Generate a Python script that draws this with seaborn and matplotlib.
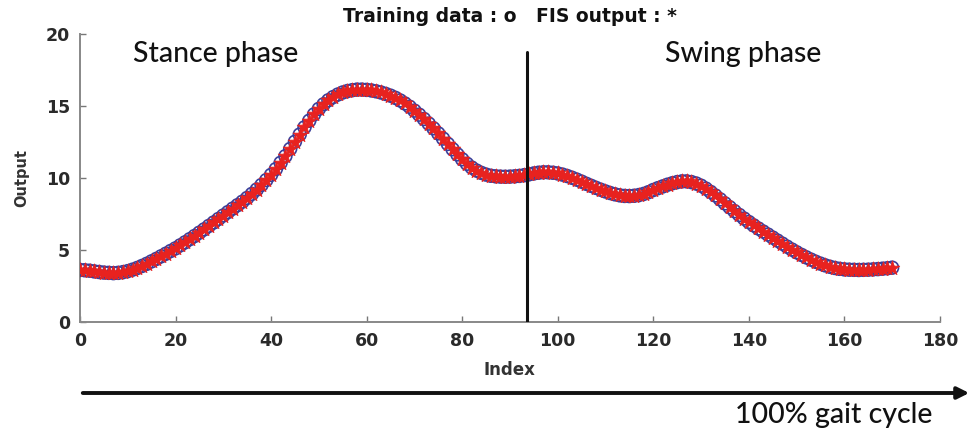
import numpy as np
import pandas as pd
import matplotlib
matplotlib.use("Agg")
import matplotlib.pyplot as plt
import seaborn as sns

# Gait output per sample index (training data and FIS output coincide)
index = list(range(0, 171))
output = [
    3.60, 3.58, 3.55, 3.50, 3.46, 3.42, 3.40, 3.38, 3.40, 3.45,
    3.52, 3.62, 3.74, 3.88, 4.03, 4.20, 4.37, 4.55, 4.73, 4.92,
    5.10, 5.31, 5.52, 5.74, 5.96, 6.19, 6.42, 6.66, 6.90, 7.14,
    7.38, 7.62, 7.86, 8.10, 8.34, 8.60, 8.88, 9.18, 9.50, 9.84,
    10.20, 10.60, 11.04, 11.50, 12.00, 12.50, 13.00, 13.50, 13.96, 14.40,
    14.78, 15.10, 15.38, 15.60, 15.78, 15.92, 16.02, 16.08, 16.12, 16.12,
    16.10, 16.06, 16.00, 15.92, 15.82, 15.70, 15.55, 15.37, 15.16, 14.93,
    14.66, 14.38, 14.08, 13.76, 13.43, 13.08, 12.72, 12.35, 11.98, 11.62,
    11.28, 10.97, 10.71, 10.50, 10.34, 10.22, 10.14, 10.10, 10.08, 10.07,
    10.08, 10.10, 10.13, 10.18, 10.24, 10.30, 10.35, 10.38, 10.38, 10.35,
    10.30, 10.22, 10.12, 10.00, 9.87, 9.73, 9.58, 9.44, 9.30, 9.17,
    9.05, 8.94, 8.85, 8.78, 8.74, 8.73, 8.75, 8.80, 8.88, 9.00,
    9.15, 9.28, 9.40, 9.52, 9.62, 9.70, 9.75, 9.75, 9.70, 9.60,
    9.45, 9.25, 9.02, 8.77, 8.50, 8.22, 7.95, 7.68, 7.42, 7.17,
    6.93, 6.70, 6.48, 6.27, 6.06, 5.85, 5.64, 5.43, 5.22, 5.02,
    4.83, 4.65, 4.48, 4.32, 4.17, 4.04, 3.92, 3.82, 3.74, 3.68,
    3.64, 3.62, 3.61, 3.60, 3.61, 3.62, 3.64, 3.66, 3.69, 3.72,
    3.76,
]

x_ticks = [0, 20, 40, 60, 80, 100, 120, 140, 160, 180]
y_ticks = [0, 5, 10, 15, 20]
phase_boundary = 93.6
phase_labels = ["Stance phase", "Swing phase"]

df = pd.DataFrame({"Index": index, "Output": output})

sns.set_theme(style="ticks")
plt.rcParams["font.family"] = ["DejaVu Sans"]

fig = plt.figure(figsize=(9.75, 4.32), dpi=100)
ax = fig.add_axes([0.082, 0.255, 0.882, 0.667])

# training data as open circles, FIS output as stars on top
sns.scatterplot(data=df, x="Index", y="Output", ax=ax, marker="o",
                s=85, facecolor="none", edgecolor="#3a3f9a", linewidth=1.2,
                zorder=3)
sns.scatterplot(data=df, x="Index", y="Output", ax=ax, marker="*",
                s=120, color="#e8221f", edgecolor="#e8221f", linewidth=0.6,
                zorder=4)

ax.axvline(phase_boundary, ymin=0, ymax=0.935, color="#111111", lw=2.2, zorder=5)

ax.set_xlim(0, 180)
ax.set_ylim(0, 20)
ax.set_xticks(x_ticks)
ax.set_yticks(y_ticks)
ax.set_xticklabels([str(t) for t in x_ticks], fontweight="bold", fontsize=12.5,
                   color="#2a2a2a")
ax.set_yticklabels([str(t) for t in y_ticks], fontweight="bold", fontsize=12.5,
                   color="#2a2a2a")
ax.tick_params(direction="in", length=4, width=1, color="#777777", pad=7)
for side in ("top", "right"):
    ax.spines[side].set_visible(False)
for side in ("left", "bottom"):
    ax.spines[side].set_color("#888888")
    ax.spines[side].set_linewidth(1.4)

ax.set_xlabel("Index", fontsize=12, fontweight="bold", color="#333333", labelpad=8)
ax.set_ylabel("Output", fontsize=10.5, fontweight="bold", color="#333333", labelpad=12)

fig.text(0.523, 1 - 17 / 432, "Training data : o   FIS output : *", ha="center",
         va="center", fontsize=13.5, fontweight="bold", color="#111111")

phase_font = ["Lato", "DejaVu Sans"]
fig.text(133 / 975, 1 - 62 / 432, phase_labels[0], fontsize=20.5,
         family=phase_font, fontweight="medium", color="#111111", va="baseline")
fig.text(665 / 975, 1 - 62 / 432, phase_labels[1], fontsize=20.5,
         family=phase_font, fontweight="medium", color="#111111", va="baseline")

# gait-cycle arrow beneath the axis
fig.patches.append(matplotlib.patches.FancyArrowPatch(
    (80 / 975, 1 - 393 / 432), (972 / 975, 1 - 393 / 432),
    transform=fig.transFigure, arrowstyle="-|>,head_length=7,head_width=3.5",
    color="#111111", lw=2.8, mutation_scale=1))
fig.text(735 / 975, 1 - 423 / 432, "100% gait cycle", ha="left", va="baseline",
         fontsize=20.5, family=phase_font, fontweight="medium", color="#111111")

fig.savefig("out.png", dpi=100)
